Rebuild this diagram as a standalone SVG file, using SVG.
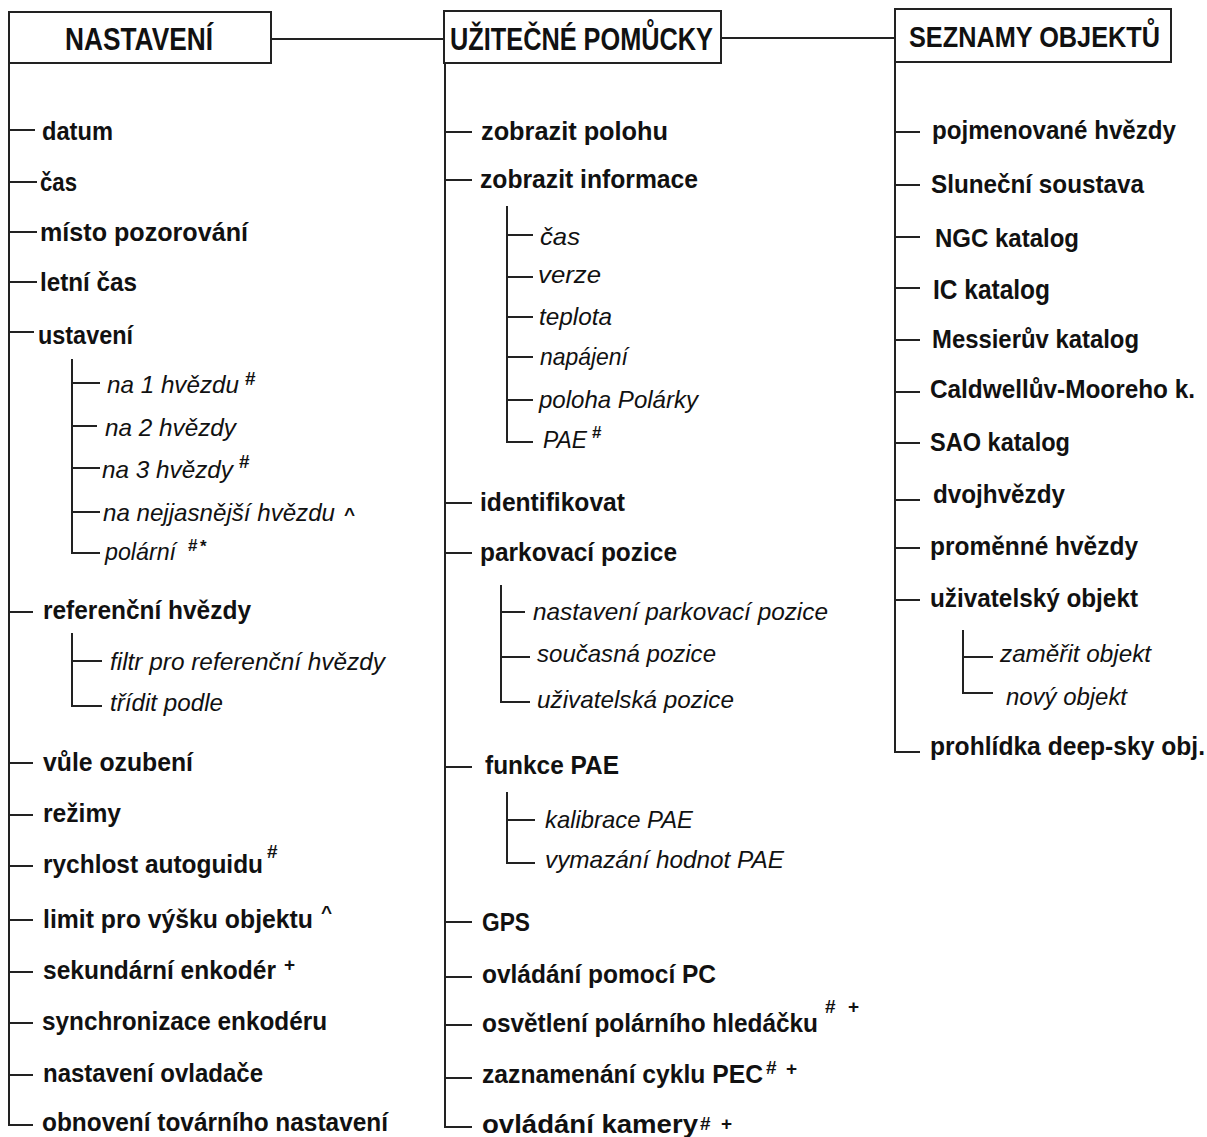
<svg xmlns="http://www.w3.org/2000/svg" width="1207" height="1137" viewBox="0 0 1207 1137">
<style>
text{fill:#111;font-family:"Liberation Sans",Arial,sans-serif}
.h{font-size:32px;font-weight:bold}
.b{font-size:25px;font-weight:bold}
.i{font-size:24px;font-style:italic}
.s{font-size:19px;font-weight:bold}
.box{fill:#fff;stroke:#222;stroke-width:2}
.ln{fill:none;stroke:#222;stroke-width:2}
</style>
<rect width="1207" height="1137" fill="#fff"/>
<g id="connectors" class="ln">
<path d="M271 39H444M721 38H895"/>
<path d="M9 63V1125H33M9 130H35M9 182H37M9 232H37M9 282H37M9 332H34M9 612H33M9 763H33M9 815H33M9 866H33M9 920H33M9 972H33M9 1023H33M9 1075H33"/>
<path d="M72 359V553H100M72 383H100M72 426H97M72 468H100M72 512H100"/>
<path d="M72 633V706H102M72 661H102"/>
<path d="M445 63V1127H472M445 132H472M445 180H472M445 503H472M445 553H472M445 767H472M445 922H472M445 977H472M445 1025H472M445 1078H472"/>
<path d="M507 206V442H533M507 235H533M507 277H533M507 317H533M507 357H533M507 400H533"/>
<path d="M501 585V702H530M501 612H525M501 657H530"/>
<path d="M507 792V863H535M507 820H535"/>
<path d="M895 62V752H920M895 132H920M895 185H920M895 237H920M895 288H920M895 340H920M895 392H920M895 443H920M895 500H920M895 548H920M895 600H920"/>
<path d="M963 630V693H993M963 657H993"/>
</g>
<g id="nastaveni"><rect class="box" x="9" y="12" width="262" height="51"/><text class="h" x="65" y="50" textLength="148" lengthAdjust="spacingAndGlyphs">NASTAVENÍ</text></g>
<g id="pomucky"><rect class="box" x="444" y="11" width="277" height="52"/><text class="h" x="450" y="50" textLength="263" lengthAdjust="spacingAndGlyphs">UŽITEČNÉ POMŮCKY</text></g>
<g id="seznamy"><rect class="box" x="895" y="9" width="276" height="53"/><text class="h" x="909" y="47" style="font-size:30px" textLength="251" lengthAdjust="spacingAndGlyphs">SEZNAMY OBJEKTŮ</text></g>

<g id="datum"><text class="b" x="42" y="140" textLength="71" lengthAdjust="spacingAndGlyphs">datum</text></g>
<g id="cas"><text class="b" x="40" y="191" textLength="37" lengthAdjust="spacingAndGlyphs">čas</text></g>
<g id="misto"><text class="b" x="40" y="241" textLength="208" lengthAdjust="spacingAndGlyphs">místo pozorování</text></g>
<g id="letni"><text class="b" x="40" y="291" textLength="97" lengthAdjust="spacingAndGlyphs">letní čas</text></g>
<g id="ustaveni"><text class="b" x="38" y="344" textLength="95" lengthAdjust="spacingAndGlyphs">ustavení</text></g>
<g id="na1"><text class="i" x="107" y="393" textLength="132" lengthAdjust="spacingAndGlyphs">na 1 hvězdu</text><text class="s" x="245" y="385">#</text></g>
<g id="na2"><text class="i" x="105" y="436" textLength="131" lengthAdjust="spacingAndGlyphs">na 2 hvězdy</text></g>
<g id="na3"><text class="i" x="102" y="478" textLength="131" lengthAdjust="spacingAndGlyphs">na 3 hvězdy</text><text class="s" x="239" y="468">#</text></g>
<g id="nejjas"><text class="i" x="103" y="521" textLength="232" lengthAdjust="spacingAndGlyphs">na nejjasnější hvězdu</text><text class="s" x="344" y="521" style="font-size:19px">^</text></g>
<g id="polarni"><text class="i" x="105" y="560" textLength="71" lengthAdjust="spacingAndGlyphs">polární</text><text class="s" x="188" y="551" style="font-size:17px">#</text><text class="s" x="200" y="552" style="font-size:17px">*</text></g>
<g id="referencni"><text class="b" x="43" y="619" textLength="208" lengthAdjust="spacingAndGlyphs">referenční hvězdy</text></g>
<g id="filtr"><text class="i" x="110" y="670" textLength="275" lengthAdjust="spacingAndGlyphs">filtr pro referenční hvězdy</text></g>
<g id="tridit"><text class="i" x="110" y="711" textLength="113" lengthAdjust="spacingAndGlyphs">třídit podle</text></g>
<g id="vule"><text class="b" x="43" y="771" textLength="150" lengthAdjust="spacingAndGlyphs">vůle ozubení</text></g>
<g id="rezimy"><text class="b" x="43" y="822" textLength="78" lengthAdjust="spacingAndGlyphs">režimy</text></g>
<g id="rychlost"><text class="b" x="43" y="873" textLength="220" lengthAdjust="spacingAndGlyphs">rychlost autoguidu</text><text class="s" x="267" y="858">#</text></g>
<g id="limit"><text class="b" x="43" y="928" textLength="270" lengthAdjust="spacingAndGlyphs">limit pro výšku objektu</text><text class="s" x="321" y="919">^</text></g>
<g id="sekundarni"><text class="b" x="43" y="979" textLength="233" lengthAdjust="spacingAndGlyphs">sekundární enkodér</text><text class="s" x="284" y="971">+</text></g>
<g id="synchronizace"><text class="b" x="42" y="1030" textLength="285" lengthAdjust="spacingAndGlyphs">synchronizace enkodéru</text></g>
<g id="ovladac"><text class="b" x="43" y="1082" textLength="220" lengthAdjust="spacingAndGlyphs">nastavení ovladače</text></g>
<g id="obnoveni"><text class="b" x="42" y="1131" textLength="346" lengthAdjust="spacingAndGlyphs">obnovení továrního nastavení</text></g>

<g id="polohu"><text class="b" x="481" y="140" textLength="187" lengthAdjust="spacingAndGlyphs">zobrazit polohu</text></g>
<g id="informace"><text class="b" x="480" y="188" textLength="218" lengthAdjust="spacingAndGlyphs">zobrazit informace</text></g>
<g id="i-cas"><text class="i" x="540" y="245" textLength="40" lengthAdjust="spacingAndGlyphs">čas</text></g>
<g id="i-verze"><text class="i" x="538" y="283" textLength="63" lengthAdjust="spacingAndGlyphs">verze</text></g>
<g id="i-teplota"><text class="i" x="539" y="325" textLength="73" lengthAdjust="spacingAndGlyphs">teplota</text></g>
<g id="i-napajeni"><text class="i" x="540" y="365" textLength="88" lengthAdjust="spacingAndGlyphs">napájení</text></g>
<g id="i-polaris"><text class="i" x="539" y="408" textLength="159" lengthAdjust="spacingAndGlyphs">poloha Polárky</text></g>
<g id="i-pae"><text class="i" x="543" y="448" textLength="44" lengthAdjust="spacingAndGlyphs">PAE</text><text class="s" x="592" y="438" style="font-size:17px">#</text></g>
<g id="identifikovat"><text class="b" x="480" y="511" textLength="145" lengthAdjust="spacingAndGlyphs">identifikovat</text></g>
<g id="parkovaci"><text class="b" x="480" y="561" textLength="197" lengthAdjust="spacingAndGlyphs">parkovací pozice</text></g>
<g id="p-nastaveni"><text class="i" x="533" y="620" textLength="295" lengthAdjust="spacingAndGlyphs">nastavení parkovací pozice</text></g>
<g id="p-soucasna"><text class="i" x="537" y="662" textLength="179" lengthAdjust="spacingAndGlyphs">současná pozice</text></g>
<g id="p-uzivatelska"><text class="i" x="537" y="708" textLength="197" lengthAdjust="spacingAndGlyphs">uživatelská pozice</text></g>
<g id="funkce"><text class="b" x="485" y="774" textLength="134" lengthAdjust="spacingAndGlyphs">funkce PAE</text></g>
<g id="kalibrace"><text class="i" x="545" y="828" textLength="148" lengthAdjust="spacingAndGlyphs">kalibrace PAE</text></g>
<g id="vymazani"><text class="i" x="545" y="868" textLength="239" lengthAdjust="spacingAndGlyphs">vymazání hodnot PAE</text></g>
<g id="gps"><text class="b" x="482" y="931" textLength="48" lengthAdjust="spacingAndGlyphs">GPS</text></g>
<g id="pc"><text class="b" x="482" y="983" textLength="234" lengthAdjust="spacingAndGlyphs">ovládání pomocí PC</text></g>
<g id="osvetleni"><text class="b" x="482" y="1032" textLength="336" lengthAdjust="spacingAndGlyphs">osvětlení polárního hledáčku</text><text class="s" x="825" y="1013">#</text><text class="s" x="848" y="1013">+</text></g>
<g id="pec"><text class="b" x="482" y="1083" textLength="281" lengthAdjust="spacingAndGlyphs">zaznamenání cyklu PEC</text><text class="s" x="766" y="1074">#</text><text class="s" x="786" y="1075">+</text></g>
<g id="kamera"><text class="b" x="482" y="1133" textLength="216" lengthAdjust="spacingAndGlyphs">ovládání kamery</text><text class="s" x="700" y="1130">#</text><text class="s" x="721" y="1130">+</text></g>

<g id="pojmenovane"><text class="b" x="932" y="139" textLength="244" lengthAdjust="spacingAndGlyphs">pojmenované hvězdy</text></g>
<g id="slunecni"><text class="b" x="931" y="193" textLength="213" lengthAdjust="spacingAndGlyphs">Sluneční soustava</text></g>
<g id="ngc"><text class="b" x="935" y="247" textLength="144" lengthAdjust="spacingAndGlyphs">NGC katalog</text></g>
<g id="ic"><text class="b" x="933" y="299" style="font-size:27px" textLength="117" lengthAdjust="spacingAndGlyphs">IC katalog</text></g>
<g id="messier"><text class="b" x="932" y="348" textLength="207" lengthAdjust="spacingAndGlyphs">Messierův katalog</text></g>
<g id="caldwell"><text class="b" x="930" y="398" textLength="265" lengthAdjust="spacingAndGlyphs">Caldwellův-Mooreho k.</text></g>
<g id="sao"><text class="b" x="930" y="451" textLength="140" lengthAdjust="spacingAndGlyphs">SAO katalog</text></g>
<g id="dvojhvezdy"><text class="b" x="933" y="503" textLength="132" lengthAdjust="spacingAndGlyphs">dvojhvězdy</text></g>
<g id="promenne"><text class="b" x="930" y="555" textLength="208" lengthAdjust="spacingAndGlyphs">proměnné hvězdy</text></g>
<g id="uzivatelsky"><text class="b" x="930" y="607" textLength="208" lengthAdjust="spacingAndGlyphs">uživatelský objekt</text></g>
<g id="zamerit"><text class="i" x="1000" y="662" textLength="151" lengthAdjust="spacingAndGlyphs">zaměřit objekt</text></g>
<g id="novy"><text class="i" x="1006" y="705" textLength="121" lengthAdjust="spacingAndGlyphs">nový objekt</text></g>
<g id="prohlidka"><text class="b" x="930" y="755" textLength="275" lengthAdjust="spacingAndGlyphs">prohlídka deep-sky obj.</text></g>
</svg>
